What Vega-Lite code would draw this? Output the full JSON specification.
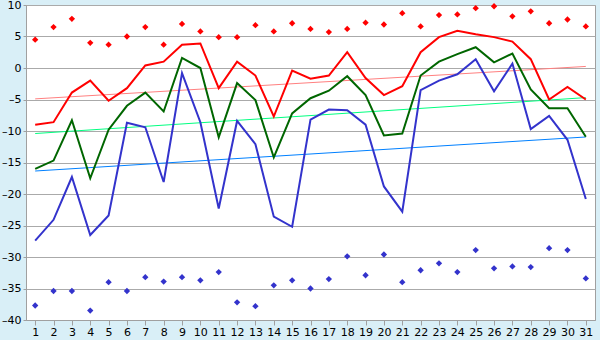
{
  "$schema": "https://vega.github.io/schema/vega-lite/v6.json",
  "width": 569,
  "height": 315,
  "autosize": {"type": "none"},
  "padding": {"left": 26, "top": 5, "right": 5, "bottom": 20},
  "background": "#d9eff7",
  "config": {
    "view": {"fill": "white", "stroke": "#a0a0a0", "strokeWidth": 1},
    "axis": {
      "labelFont": "DejaVu Sans",
      "labelFontSize": 11,
      "labelColor": "#000000",
      "domainColor": "#a0a0a0",
      "tickColor": "#a0a0a0",
      "gridColor": "#aaaaaa",
      "gridOpacity": 1,
      "title": null
    },
    "axisY": {
      "values": [-40, -35, -30, -25, -20, -15, -10, -5, 0, 5, 10],
      "grid": true,
      "tickSize": 3,
      "labelPadding": 2,
      "labelOverlap": false,
      "labelFlush": false,
      "labelExpr": "replace(datum.label, '−', '–')"
    }
  },
  "datasets": {
    "days": [
      {"day": 1, "hi": -9.0, "mid": -16.0, "lo": -27.4, "hiPt": 4.5, "loPt": -37.7},
      {"day": 2, "hi": -8.6, "mid": -14.7, "lo": -24.1, "hiPt": 6.5, "loPt": -35.4},
      {"day": 3, "hi": -3.9, "mid": -8.3, "lo": -17.3, "hiPt": 7.8, "loPt": -35.4},
      {"day": 4, "hi": -2.0, "mid": -17.5, "lo": -26.5, "hiPt": 4.0, "loPt": -38.5},
      {"day": 5, "hi": -5.2, "mid": -9.8, "lo": -23.4, "hiPt": 3.7, "loPt": -34.0},
      {"day": 6, "hi": -3.2, "mid": -6.0, "lo": -8.7, "hiPt": 5.0, "loPt": -35.4},
      {"day": 7, "hi": 0.4, "mid": -3.9, "lo": -9.4, "hiPt": 6.5, "loPt": -33.2},
      {"day": 8, "hi": 1.0, "mid": -6.9, "lo": -18.1, "hiPt": 3.7, "loPt": -33.9},
      {"day": 9, "hi": 3.7, "mid": 1.6, "lo": -0.8, "hiPt": 7.0, "loPt": -33.2},
      {"day": 10, "hi": 3.9, "mid": 0.0, "lo": -8.6, "hiPt": 5.8, "loPt": -33.7},
      {"day": 11, "hi": -3.2, "mid": -11.0, "lo": -22.3, "hiPt": 4.9, "loPt": -32.4},
      {"day": 12, "hi": 1.0, "mid": -2.4, "lo": -8.4, "hiPt": 4.9, "loPt": -37.2},
      {"day": 13, "hi": -1.2, "mid": -5.1, "lo": -12.1, "hiPt": 6.8, "loPt": -37.8},
      {"day": 14, "hi": -7.7, "mid": -14.2, "lo": -23.6, "hiPt": 5.8, "loPt": -34.5},
      {"day": 15, "hi": -0.4, "mid": -7.2, "lo": -25.2, "hiPt": 7.1, "loPt": -33.7},
      {"day": 16, "hi": -1.7, "mid": -4.8, "lo": -8.2, "hiPt": 6.2, "loPt": -35.0},
      {"day": 17, "hi": -1.2, "mid": -3.6, "lo": -6.6, "hiPt": 5.7, "loPt": -33.5},
      {"day": 18, "hi": 2.5, "mid": -1.3, "lo": -6.7, "hiPt": 6.2, "loPt": -29.9},
      {"day": 19, "hi": -1.6, "mid": -4.3, "lo": -9.0, "hiPt": 7.2, "loPt": -32.9},
      {"day": 20, "hi": -4.3, "mid": -10.7, "lo": -18.8, "hiPt": 6.9, "loPt": -29.6},
      {"day": 21, "hi": -2.9, "mid": -10.4, "lo": -22.8, "hiPt": 8.7, "loPt": -34.0},
      {"day": 22, "hi": 2.5, "mid": -1.2, "lo": -3.5, "hiPt": 6.6, "loPt": -32.1},
      {"day": 23, "hi": 4.9, "mid": 1.0, "lo": -2.0, "hiPt": 8.4, "loPt": -31.0},
      {"day": 24, "hi": 5.9, "mid": 2.2, "lo": -1.0, "hiPt": 8.5, "loPt": -32.4},
      {"day": 25, "hi": 5.35, "mid": 3.3, "lo": 1.4, "hiPt": 9.5, "loPt": -28.9},
      {"day": 26, "hi": 4.9, "mid": 0.9, "lo": -3.7, "hiPt": 9.8, "loPt": -31.8},
      {"day": 27, "hi": 4.2, "mid": 2.3, "lo": 0.7, "hiPt": 8.2, "loPt": -31.5},
      {"day": 28, "hi": 1.4, "mid": -3.4, "lo": -9.7, "hiPt": 9.0, "loPt": -31.6},
      {"day": 29, "hi": -5.0, "mid": -6.4, "lo": -7.6, "hiPt": 7.1, "loPt": -28.6},
      {"day": 30, "hi": -3.0, "mid": -6.4, "lo": -11.4, "hiPt": 7.7, "loPt": -28.9},
      {"day": 31, "hi": -5.0, "mid": -10.9, "lo": -20.8, "hiPt": 6.6, "loPt": -33.4}
    ],
    "trend": [
      {"day": 1, "hiT": -4.9, "midT": -10.4, "loT": -16.35},
      {"day": 31, "hiT": 0.25, "midT": -4.7, "loT": -10.95}
    ]
  },
  "encoding": {
    "x": {
      "field": "day",
      "type": "quantitative",
      "scale": {"domain": [0.5, 31.5], "nice": false, "zero": false},
      "axis": {
        "values": [1,2,3,4,5,6,7,8,9,10,11,12,13,14,15,16,17,18,19,20,21,22,23,24,25,26,27,28,29,30,31],
        "grid": false,
        "tickSize": 5,
        "labelPadding": 1,
        "labelFlush": false,
        "labelOverlap": false
      }
    }
  },
  "layer": [
    {
      "data": {"name": "trend"},
      "mark": {"type": "line", "color": "#ff8080", "strokeWidth": 1},
      "encoding": {
        "y": {
          "field": "hiT",
          "type": "quantitative",
          "scale": {"domain": [-40, 10], "nice": false}
        }
      }
    },
    {
      "data": {"name": "trend"},
      "mark": {"type": "line", "color": "#00ff80", "strokeWidth": 1},
      "encoding": {"y": {"field": "midT", "type": "quantitative"}}
    },
    {
      "data": {"name": "trend"},
      "mark": {"type": "line", "color": "#0080ff", "strokeWidth": 1},
      "encoding": {"y": {"field": "loT", "type": "quantitative"}}
    },
    {
      "data": {"name": "days"},
      "mark": {"type": "line", "color": "#ff0000", "strokeWidth": 2},
      "encoding": {"y": {"field": "hi", "type": "quantitative"}}
    },
    {
      "data": {"name": "days"},
      "mark": {"type": "line", "color": "#006600", "strokeWidth": 2},
      "encoding": {"y": {"field": "mid", "type": "quantitative"}}
    },
    {
      "data": {"name": "days"},
      "mark": {"type": "line", "color": "#3333cc", "strokeWidth": 2},
      "encoding": {"y": {"field": "lo", "type": "quantitative"}}
    },
    {
      "data": {"name": "days"},
      "mark": {"type": "point", "shape": "diamond", "filled": true, "color": "#ff0000", "size": 40, "opacity": 1},
      "encoding": {"y": {"field": "hiPt", "type": "quantitative"}}
    },
    {
      "data": {"name": "days"},
      "mark": {"type": "point", "shape": "diamond", "filled": true, "color": "#3333cc", "size": 40, "opacity": 1},
      "encoding": {"y": {"field": "loPt", "type": "quantitative"}}
    }
  ]
}
